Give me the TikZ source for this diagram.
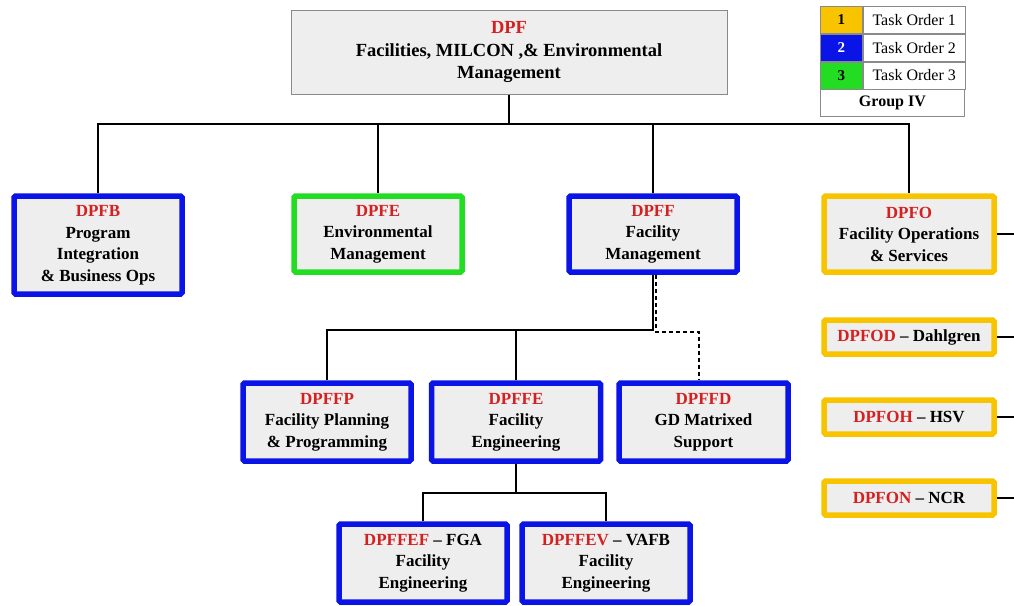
\documentclass[tikz,border=0pt]{standalone}
\usepackage{fontspec}
\setmainfont{Liberation Serif}
\usetikzlibrary{backgrounds,calc}
\definecolor{boxgray}{HTML}{EEEEEE}
\definecolor{dpred}{HTML}{D42020}
\definecolor{tblue}{HTML}{0A14E6}
\definecolor{tgreen}{HTML}{22DD22}
\definecolor{tyellow}{HTML}{F8C400}
\definecolor{edgegray}{HTML}{8A8A8A}
\newcommand{\rd}[1]{\textcolor{dpred}{#1}}
\begin{document}
\begin{tikzpicture}[x=1pt,y=-1pt,
  org/.style={draw=#1, line width=5.5pt, fill=boxgray, rounded corners=1.5pt,
    align=center, font=\bfseries\fontsize{17}{21.5}\selectfont, inner sep=0pt},
  conn/.style={draw=black, line width=1.6pt},
  leg/.style={draw=edgegray, line width=0.8pt, minimum height=27pt, inner sep=0pt,
    font=\fontsize{16}{18}\selectfont}]
\useasboundingbox (0,0) rectangle (1014,605);
\clip (0,0) rectangle (1014,605);

% top box
\node[draw=edgegray, line width=0.8pt, fill=boxgray, minimum width=436pt, minimum height=84pt,
  align=center, font=\bfseries\fontsize{18.5}{22.5}\selectfont, inner sep=0pt]
  (dpf) at (509,52) {\rd{DPF}\\Facilities, MILCON ,\& Environmental\\Management};

% level 1
\node[org=tblue, minimum width=168pt, minimum height=98pt] (dpfb) at (98,245)
  {\rd{DPFB}\\Program\\Integration\\\& Business Ops};
\node[org=tgreen, minimum width=168pt, minimum height=76pt] (dpfe) at (378,234)
  {\rd{DPFE}\\Environmental\\Management};
\node[org=tblue, minimum width=168pt, minimum height=76pt] (dpff) at (653,234)
  {\rd{DPFF}\\Facility\\Management};
\node[org=tyellow, minimum width=170pt, minimum height=76pt] (dpfo) at (909,234)
  {\rd{DPFO}\\Facility Operations\\\& Services};

% DPFO subs
\node[org=tyellow, minimum width=170pt, minimum height=34pt] (dpfod) at (909,337)
  {\rd{DPFOD} -- Dahlgren};
\node[org=tyellow, minimum width=170pt, minimum height=34pt] (dpfoh) at (909,417)
  {\rd{DPFOH} -- HSV};
\node[org=tyellow, minimum width=170pt, minimum height=34pt] (dpfon) at (909,498)
  {\rd{DPFON} -- NCR};

% level 2
\node[org=tblue, minimum width=168pt, minimum height=78pt] (dpffp) at (327,422)
  {\rd{DPFFP}\\Facility Planning\\\& Programming};
\node[org=tblue, minimum width=169pt, minimum height=78pt] (dpffe) at (516,422)
  {\rd{DPFFE}\\Facility\\Engineering};
\node[org=tblue, minimum width=169pt, minimum height=78pt] (dpffd) at (703.5,422)
  {\rd{DPFFD}\\GD Matrixed\\Support};

% level 3
\node[org=tblue, minimum width=168pt, minimum height=78pt] (dpffef) at (423,563)
  {\rd{DPFFEF} -- FGA\\Facility\\Engineering};
\node[org=tblue, minimum width=168pt, minimum height=78pt] (dpffev) at (606,563)
  {\rd{DPFFEV} -- VAFB\\Facility\\Engineering};

% legend
\node[leg, fill=tyellow, minimum width=42pt, anchor=north west, font=\bfseries\fontsize{15}{17}\selectfont] (l1) at (820,6) {1};
\node[leg, fill=white, minimum width=102pt, anchor=west] (t1) at (l1.east) {Task Order 1};
\node[leg, fill=tblue, text=white, minimum width=42pt, anchor=north, font=\bfseries\fontsize{15}{17}\selectfont] (l2) at (l1.south) {2};
\node[leg, fill=white, minimum width=102pt, anchor=west] (t2) at (l2.east) {Task Order 2};
\node[leg, fill=tgreen, minimum width=42pt, anchor=north, font=\bfseries\fontsize{15}{17}\selectfont] (l3) at (l2.south) {3};
\node[leg, fill=white, minimum width=102pt, anchor=west] (t3) at (l3.east) {Task Order 3};
\node[leg, fill=white, minimum width=144pt, anchor=north west, font=\bfseries\fontsize{16}{18}\selectfont] (g4) at (l3.south west) {Group IV};

% connectors
\coordinate (bus) at (509,124);
\coordinate (fbus) at (653,330);
\coordinate (dd) at (699,332);
\coordinate (ebus) at (516,493);
\coordinate (redge) at (1014,0);
\begin{pgfonlayer}{background}
\draw[conn] (dpf.south) -- (bus);
\draw[conn] (dpfb.north) |- (bus) -| (dpfo.north);
\draw[conn] (dpfe.north) -- (dpfe.north |- bus);
\draw[conn] (dpff.north) -- (dpff.north |- bus);
\draw[conn] (dpff.south) -- (fbus) -| (dpffp.north);
\draw[conn] (dpffe.north) -- (dpffe.north |- fbus);
\draw[conn, dashed, dash pattern=on 4pt off 3pt] ($(dpff.south)+(3,0)$) |- (dd) -- (dd |- dpffd.north);
\draw[conn] (dpffe.south) -- (ebus);
\draw[conn] (dpffef.north) |- (ebus) -| (dpffev.north);
\draw[conn] (dpfo.east) -- (dpfo.east -| redge);
\draw[conn] (dpfod.east) -- (dpfod.east -| redge);
\draw[conn] (dpfoh.east) -- (dpfoh.east -| redge);
\draw[conn] (dpfon.east) -- (dpfon.east -| redge);
\end{pgfonlayer}
\end{tikzpicture}
\end{document}
